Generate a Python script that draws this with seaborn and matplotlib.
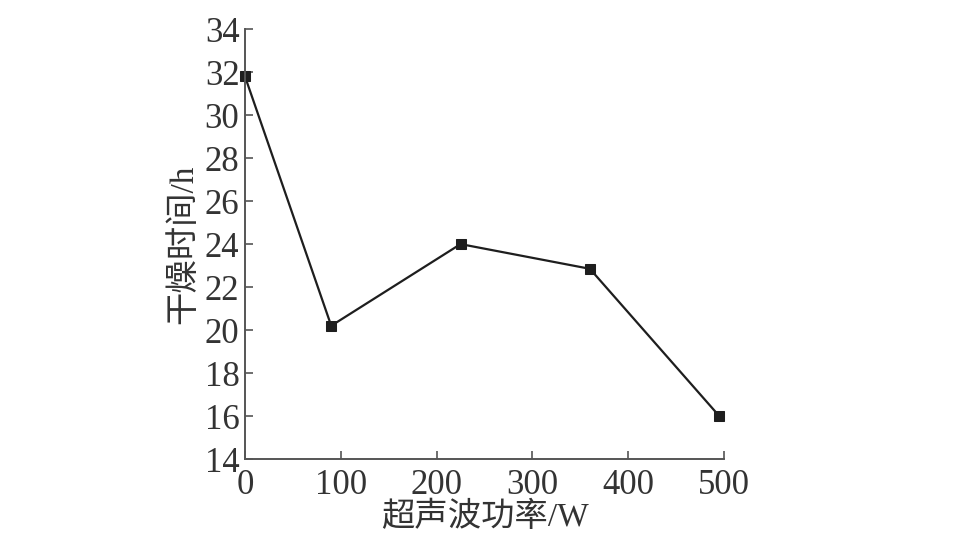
import matplotlib
matplotlib.use("Agg")
import matplotlib.pyplot as plt
import seaborn as sns
import pandas as pd

power = [0, 90, 225, 360, 495]
drying_time = [31.8, 20.2, 24.0, 22.85, 16.0]
x_ticks = [0, 100, 200, 300, 400, 500]
y_ticks = [14, 16, 18, 20, 22, 24, 26, 28, 30, 32, 34]
x_label = "超声波功率/W"
y_label = "干燥时间/h"

sns.set_theme(style="white")
plt.rcParams['font.family'] = ['Liberation Serif', 'Noto Sans CJK SC', 'DejaVu Sans']

df = pd.DataFrame({"power": power, "time": drying_time})

fig = plt.figure(figsize=(9.6, 5.34), dpi=100)
ax = fig.add_axes([0.2552, 0.1404, 0.499, 0.805])

sns.lineplot(data=df, x="power", y="time", ax=ax, color="#1e1e1e",
             linewidth=1.6, marker="s", markersize=7.5,
             markeredgecolor="#1e1e1e", markerfacecolor="#1e1e1e", clip_on=False)

ax.set_xlim(0, 500)
ax.set_ylim(14, 34)
ax.set_xticks(x_ticks)
ax.set_yticks(y_ticks)
ax.tick_params(axis="both", direction="in", length=6, width=1.2, color="#555555",
               labelsize=25, labelcolor="#333333", left=True, bottom=True)
ax.tick_params(axis="y", pad=4)
ax.tick_params(axis="x", pad=7)
for s in ["top", "right"]:
    ax.spines[s].set_visible(False)
for s in ["left", "bottom"]:
    ax.spines[s].set_color("#555555")
    ax.spines[s].set_linewidth(1.4)

ax.set_xlabel(x_label, fontsize=24, color="#333333", labelpad=0)
ax.set_ylabel(y_label, fontsize=24, color="#333333", labelpad=4)
ax.grid(False)

fig.savefig("out.png", dpi=100, facecolor="white")
